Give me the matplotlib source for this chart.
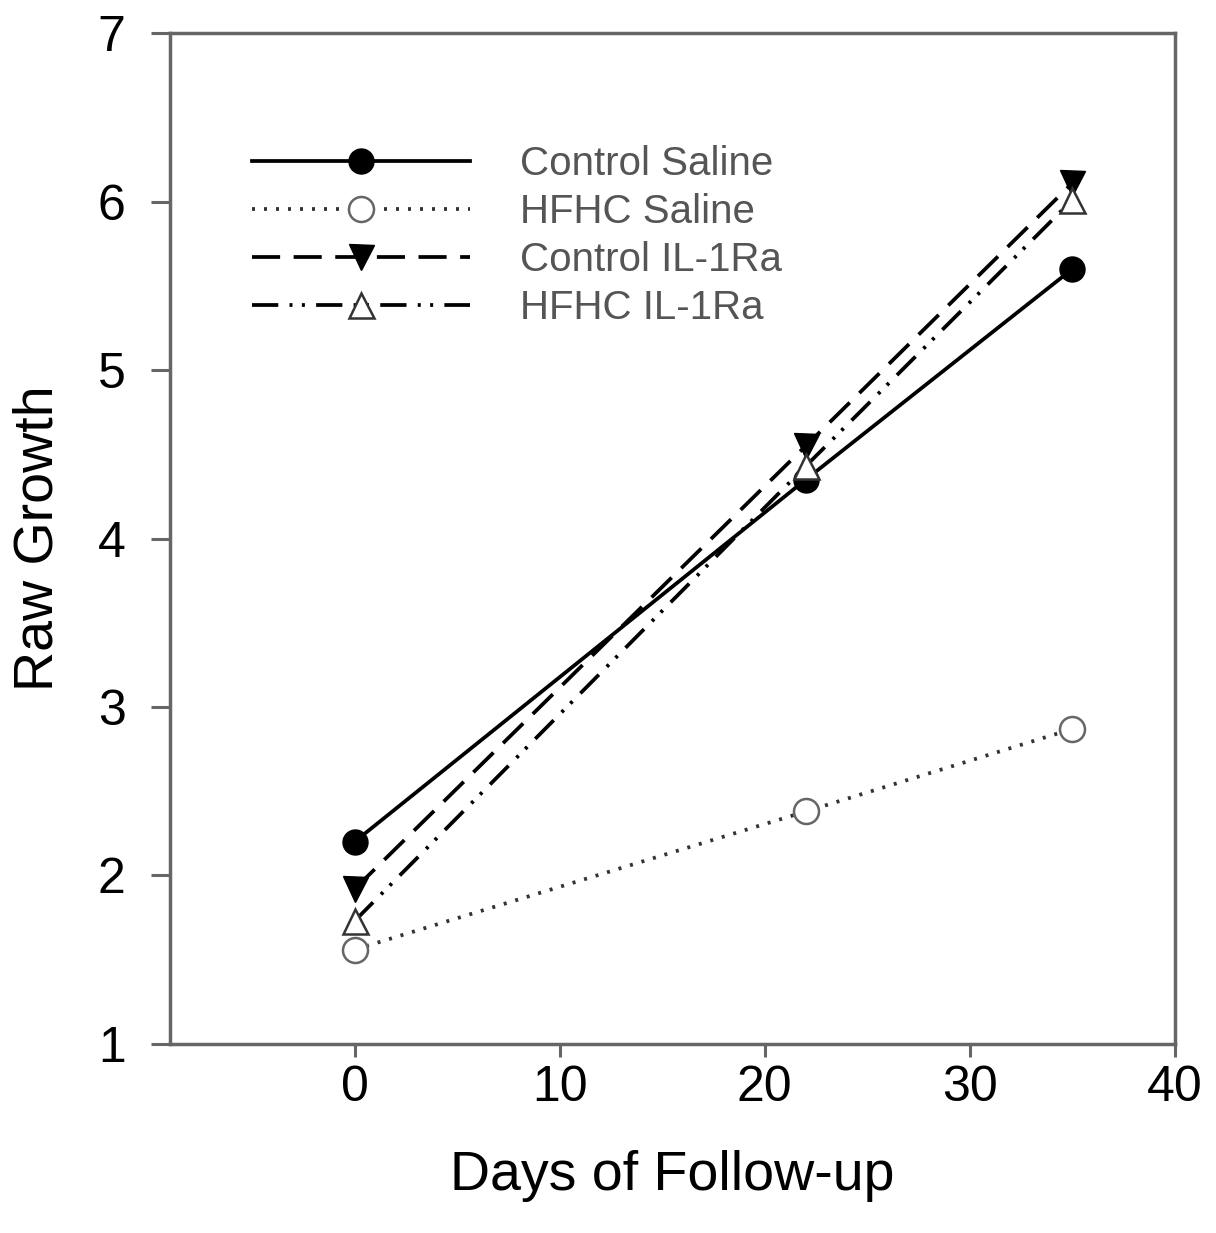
import matplotlib
matplotlib.use("Agg")
import matplotlib.pyplot as plt

plt.rcParams['font.family'] = ['Liberation Sans', 'DejaVu Sans']

days = [0, 22, 35]
control_saline = [2.20, 4.35, 5.60]
hfhc_saline = [1.56, 2.38, 2.87]
control_il1ra = [1.92, 4.55, 6.11]
hfhc_il1ra = [1.73, 4.43, 6.01]

x_ticks = [0, 10, 20, 30, 40]
y_ticks = [1, 2, 3, 4, 5, 6, 7]

fig = plt.figure(figsize=(12.16, 12.33), dpi=100)
ax = fig.add_axes([0.1398, 0.1533, 0.8265, 0.8199])

lw = 2.7
ms = 18
ax.plot(days, control_saline, color='black', lw=lw, ls='-', marker='o', ms=ms,
        mfc='black', mec='black', label='Control Saline', zorder=3)
ax.plot(days, hfhc_saline, color='#333333', lw=lw, ls=(0, (0.8, 2.4)), marker='o', ms=ms,
        mfc='white', mec='#666666', mew=1.8, label='HFHC Saline', zorder=3)
ax.plot(days, control_il1ra, color='black', lw=lw, ls=(0, (7.5, 3.6)), marker='v', ms=ms,
        mfc='black', mec='black', label='Control IL-1Ra', zorder=3)
ax.plot(days, hfhc_il1ra, color='black', lw=lw, ls=(0, (7, 3, 0.8, 2.5, 0.8, 3)),
        marker='^', ms=ms, mfc='white', mec='#333333', mew=1.8,
        label='HFHC IL-1Ra', zorder=3)

ax.set_xlim(-9, 40)
ax.set_ylim(1, 7)
ax.set_xticks(x_ticks)
ax.set_yticks(y_ticks)

for s in ax.spines.values():
    s.set_color('#666666')
    s.set_linewidth(2.5)
ax.tick_params(axis='both', direction='out', width=2.2, color='#666666', labelsize=36)
ax.tick_params(axis='y', length=14, pad=18)
ax.tick_params(axis='x', length=9, pad=6)

ax.set_xlabel('Days of Follow-up', fontsize=40, labelpad=28)
ax.set_ylabel('Raw Growth', fontsize=40, labelpad=24)

leg = ax.legend(loc='upper left', bbox_to_anchor=(0.062, 0.909), frameon=False,
                fontsize=29, handlelength=5.4, handletextpad=1.25, labelspacing=0.25,
                labelcolor='#555555', borderpad=0)

fig.savefig('out.png', dpi=100)
